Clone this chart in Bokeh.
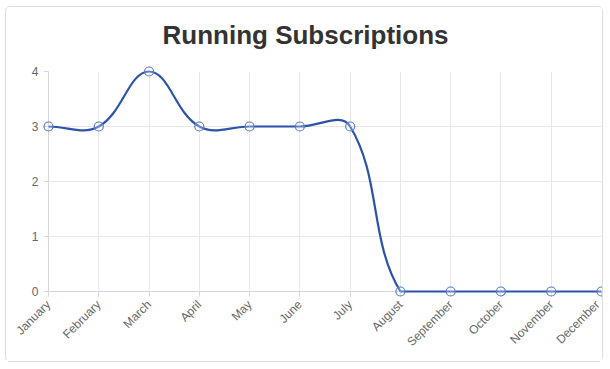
import math
from bokeh.plotting import figure
from bokeh.models import Range1d, FixedTicker
from bokeh.core.properties import value
from bokeh.embed import file_html
from bokeh.resources import INLINE

months = ["January", "February", "March", "April", "May", "June", "July",
          "August", "September", "October", "November", "December"]
subscriptions = [3, 3, 4, 3, 3, 3, 3, 0, 0, 0, 0, 0]
y_ticks = [0, 1, 2, 3, 4]
title_text = "Running Subscriptions"

LINE = "#2c53a8"
POINT = "#5a7cc8"
GRID = "#e8e8e8"
AXIS = "#d6d6d6"
TEXT = "#666666"

W, H = 598, 356
ML, MR, MT, MB = 42, 3, 64, 72
p = figure(width=W, height=H, output_backend="svg", toolbar_location=None,
           x_range=Range1d(0, len(months) - 1), y_range=Range1d(0, 4),
           min_border_left=ML, min_border_right=MR, min_border_top=MT,
           min_border_bottom=MB)
p.styles = {"border": "1px solid #dddddd", "border-radius": "5px",
            "margin-left": "5px", "margin-top": "6px"}
p.outline_line_color = None
p.background_fill_color = "white"
p.border_fill_color = "white"

# pixel scale of the frame
sx = (W - ML - MR) / (len(months) - 1)
sy = (H - MT - MB) / 4.0

# title: centred on the card, 37px above the frame top
title_cx_px = W / 2.0 - ML
p.text(x=[title_cx_px / sx], y=[4 + 37 / sy], text=[title_text],
       text_font=value("Liberation Sans"), text_font_size="26px",
       text_font_style="bold", text_color="#333333",
       text_align="center", text_baseline="middle", level="overlay")

# chart.js style spline (tension 0.4), computed in pixel-proportional space
xs = list(range(len(months)))
ys = subscriptions
t = 0.4
cp_prev, cp_next = [], []
n = len(xs)
clamp = lambda v, lo, hi: max(lo, min(hi, v))
for i in range(n):
    px, py = (xs[i - 1], ys[i - 1]) if i > 0 else (xs[i], ys[i])
    cx, cy = xs[i], ys[i]
    nx, ny = (xs[i + 1], ys[i + 1]) if i < n - 1 else (xs[i], ys[i])
    d01 = math.hypot((cx - px) * sx, (cy - py) * sy)
    d12 = math.hypot((nx - cx) * sx, (ny - cy) * sy)
    tot = d01 + d12
    s01 = d01 / tot if tot else 0
    s12 = d12 / tot if tot else 0
    fa, fb = t * s01, t * s12
    a = (cx - fa * (nx - px), cy - fa * (ny - py))
    b = (cx + fb * (nx - px), cy + fb * (ny - py))
    a = (clamp(a[0], 0, 11), clamp(a[1], 0, 4))
    b = (clamp(b[0], 0, 11), clamp(b[1], 0, 4))
    cp_prev.append(a)
    cp_next.append(b)

p.bezier(x0=xs[:-1], y0=ys[:-1], x1=xs[1:], y1=ys[1:],
         cx0=[c[0] for c in cp_next[:-1]], cy0=[c[1] for c in cp_next[:-1]],
         cx1=[c[0] for c in cp_prev[1:]], cy1=[c[1] for c in cp_prev[1:]],
         line_color=LINE, line_width=2.2, level="overlay")
p.scatter(xs, ys, size=9, marker="circle", line_color=POINT, line_width=1.2,
          fill_color="white", fill_alpha=0.25, level="overlay")

p.xaxis.ticker = FixedTicker(ticks=xs)
p.xaxis.major_label_overrides = {i: m for i, m in enumerate(months)}
p.xaxis.major_label_orientation = math.pi / 4
p.yaxis.ticker = FixedTicker(ticks=y_ticks)
for ax in (p.xaxis, p.yaxis):
    ax.axis_line_color = AXIS
    ax.major_tick_line_color = AXIS
    ax.major_tick_out = 5
    ax.major_tick_in = 0
    ax.minor_tick_line_color = None
    ax.major_label_text_font = "Liberation Sans"
    ax.major_label_text_font_size = "12px"
    ax.major_label_text_color = TEXT
p.yaxis.major_label_standoff = 5
p.xaxis.major_label_standoff = 6

p.xgrid.ticker = FixedTicker(ticks=xs)
p.ygrid.ticker = FixedTicker(ticks=y_ticks)
p.grid.grid_line_color = GRID

open("out.html", "w").write(file_html(p, INLINE))
